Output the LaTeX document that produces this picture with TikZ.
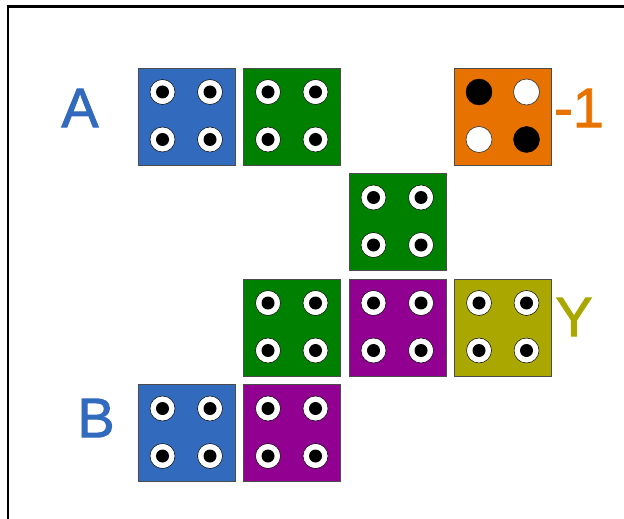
\documentclass[tikz,border=0pt]{standalone}
\usepackage{fontspec}
\setmainfont{Liberation Sans}
\newfontfamily\lblfont[FakeBold=1.6]{Liberation Sans}
\definecolor{cblue}{RGB}{50,106,190}
\definecolor{cgreen}{RGB}{0,128,0}
\definecolor{cpurple}{RGB}{145,0,145}
\definecolor{colive}{RGB}{170,168,0}
\definecolor{corange}{RGB}{232,114,0}
\begin{document}
\begin{tikzpicture}[x=1bp,y=-1bp,
  tile/.style={draw=black!70,line width=0.8bp,minimum size=97bp,inner sep=0pt,outer sep=0pt},
  hole/.style={circle,draw=black,fill=white,line width=0.5bp,minimum size=25bp,inner sep=0pt,path picture={\fill[black] (path picture bounding box.center) circle (6.5bp);}},
  solid/.style={circle,draw=black,fill=black,minimum size=26bp,inner sep=0pt},
  empty/.style={circle,draw=black!80,fill=white,line width=0.6bp,minimum size=26bp,inner sep=0pt},
  lbl/.style={font=\lblfont\fontsize{56}{56}\selectfont,inner sep=0pt}]
\useasboundingbox (0,0) rectangle (624,519);
\draw[line width=2.5bp] (8,519) -- (8,6.5) -- (624,6.5);
\foreach \nm/\cx/\cy/\col in {a1/138/68/cblue, a2/243.5/68/cgreen, c1/349/173.5/cgreen, y1/243.5/279/cgreen, y2/349/279/cpurple, y3/454.5/279/colive, b1/138/384.5/cblue, b2/243.5/384.5/cpurple}{
  \node[tile,fill=\col] (\nm) at (\cx+48.5,\cy+48.5) {};
  \node[hole] (\nm-tl) at (\cx+24.5,\cy+24) {};
  \node[hole] (\nm-tr) at (\cx+72,\cy+24) {};
  \node[hole] (\nm-bl) at (\cx+24.5,\cy+71.5) {};
  \node[hole] (\nm-br) at (\cx+72,\cy+71.5) {};
}
\node[tile,fill=corange] (m1) at (454.5+48.5,68+48.5) {};
\node[solid] (m1-tl) at (454.5+24.5,68+24) {};
\node[empty] (m1-tr) at (454.5+72,68+24) {};
\node[empty] (m1-bl) at (454.5+24.5,68+71.5) {};
\node[solid] (m1-br) at (454.5+72,68+71.5) {};
\node[lbl,text=cblue] (la) at (80,108) {A};
\node[lbl,text=corange] (lm) at (579,108) {-1};
\node[lbl,text=colive] (ly) at (574,317) {Y};
\node[lbl,text=cblue] (lb) at (96,418) {B};
\end{tikzpicture}
\end{document}
